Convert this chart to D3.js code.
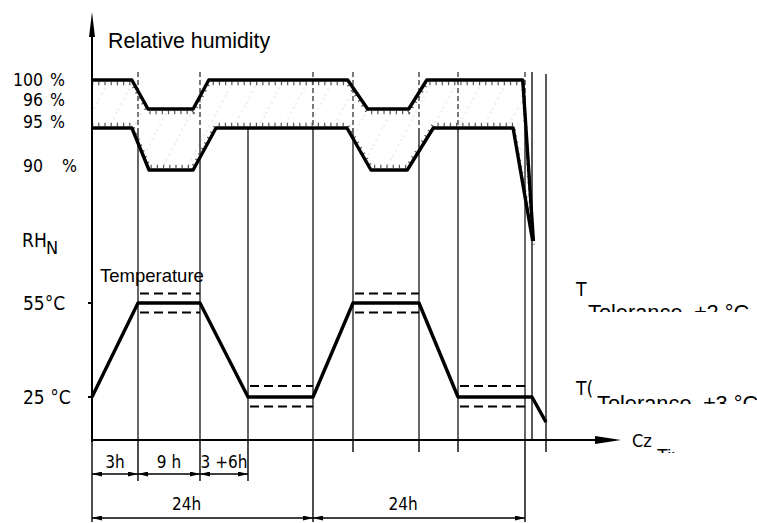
<!DOCTYPE html>
<html>
<head>
<meta charset="utf-8">
<script src="https://cdn.jsdelivr.net/npm/d3@7"></script>
<style>
	body { margin: 0; background: #fff; }
	svg { display: block; }
	.din { font-family: "DejaVu Sans Condensed", "DejaVu Sans", sans-serif; font-stretch: condensed; }
	.ari { font-family: "Liberation Sans", Arial, sans-serif; white-space: pre; }
</style>
</head>
<body>
<div id="chart"></div>
<script>
// Datos (horas, valores)
const RHN = 70; // humedad "normal", posición esquemática
const gridHours = [0, 3, 12, 15, 24, 27, 36, 39, 48, 49, 51];

const rhUpper = [[0, 100], [2.6, 100], [4.45, 96], [11, 96], [12.55, 100], [26.6, 100], [29, 96], [34.6, 96], [36.6, 100], [47.7, 100], [49.2, RHN]];
const rhLower = [[0, 95], [2.6, 95], [4.6, 90], [11, 90], [13, 95], [26.55, 95], [29.45, 90], [34.4, 90], [37.1, 95], [46.4, 95], [49.1, RHN]];

const tempCurve = [[0, 25], [3, 55], [12, 55], [15, 25], [24, 25], [27, 55], [36, 55], [39, 25], [49, 25], [51, 17]];
const tolHighSpans = [[3, 12], [27, 36]];
const tolHighLimits = [52, 58];
const tolLowSpans = [[15, 24], [39, 48]];
const tolLowLimits = [22, 28.5];

const rhTicks = [100, 96, 95, 90];
const tempTicks = [55, 25];
const tempTickLabels = ['55°C', '25 °C'];

const dimRow1 = [[0, 3, '3h'], [3, 12, '9 h'], [12, 15, '3 +6h']];
const dimRow2 = [[0, 24, '24h'], [24, 48, '24h']];

// Dimensiones
const W = 757, H = 523;
const axisY = 440;
const row1Y = 474, row2Y = 518;

const svg = d3.select('#chart').append('svg').attr('width', W).attr('height', H);

// Escalas (dibujo esquemático: tramos no proporcionales)
const x = d3.scaleLinear().domain(gridHours).range([92, 138, 200, 248, 313, 353, 419, 458, 525, 532, 546]);
const rh = d3.scaleLinear().domain([RHN, 90, 95, 96, 100]).range([241, 170, 128, 109, 80]);
const temp = d3.scaleLinear().domain([25, 55]).range([397, 303]);
const x0 = x(0);

const defs = svg.append('defs');
const pat = defs.append('pattern').attr('id', 'hatch').attr('patternUnits', 'userSpaceOnUse')
	.attr('width', 22).attr('height', 22).attr('patternTransform', 'rotate(28)');
pat.append('line').attr('x1', 2).attr('x2', 2).attr('y1', 0).attr('y2', 22)
	.attr('stroke', '#d2d2d2').attr('stroke-width', 0.8).attr('stroke-dasharray', '2,4');

defs.append('marker').attr('id', 'arr').attr('viewBox', '0 0 10 5').attr('refX', 10).attr('refY', 2.5)
	.attr('markerWidth', 10).attr('markerHeight', 5).attr('markerUnits', 'userSpaceOnUse')
	.attr('orient', 'auto-start-reverse')
	.append('path').attr('d', 'M0,0 L10,2.5 L0,5 Z').attr('fill', '#000');

const clip1 = defs.append('clipPath').attr('id', 'c1');
clip1.append('rect').attr('x', 0).attr('y', 0).attr('width', W).attr('height', 312);
const clip2 = defs.append('clipPath').attr('id', 'c2');
clip2.append('rect').attr('x', 0).attr('y', 0).attr('width', W).attr('height', 404);
const clip3 = defs.append('clipPath').attr('id', 'c3');
clip3.append('rect').attr('x', 0).attr('y', 0).attr('width', 675).attr('height', 453);

const rhLine = d3.line().x((d) => x(d[0])).y((d) => rh(d[1]));
const tLine = d3.line().x((d) => x(d[0])).y((d) => temp(d[1]));

// Banda de humedad rayada
svg.append('path')
	.attr('d', rhLine(rhUpper.concat(rhLower.slice().reverse())) + 'Z')
	.attr('fill', 'url(#hatch)').attr('stroke', 'none');

// Líneas verticales de la cuadrícula
const topY = rh(100) - 8;
const noTop = [15];
const fullTop = [49, 51];
gridHours.slice(1).forEach((h) => {
	const xv = x(h);
	if (fullTop.includes(h)) {
		svg.append('line').attr('x1', xv).attr('x2', xv).attr('y1', topY + (h === 51 ? 2 : 0)).attr('y2', axisY)
			.attr('stroke', '#000').attr('stroke-width', 1.3);
		return;
	}
	if (!noTop.includes(h)) {
		svg.append('line').attr('x1', xv).attr('x2', xv).attr('y1', topY).attr('y2', rh(95))
			.attr('stroke', '#222').attr('stroke-width', 1.2).attr('stroke-dasharray', '5,3');
	}
	svg.append('line').attr('x1', xv).attr('x2', xv).attr('y1', rh(95)).attr('y2', axisY)
		.attr('stroke', '#000').attr('stroke-width', 1.2);
});

// Marcas de rayado junto a las líneas
svg.append('path').datum(rhUpper).attr('d', rhLine).attr('transform', 'translate(0,3.5)')
	.attr('fill', 'none').attr('stroke', '#555').attr('stroke-width', 3.5).attr('stroke-dasharray', '1.2,5');
svg.append('path').datum(rhLower).attr('d', rhLine).attr('transform', 'translate(0,-3.5)')
	.attr('fill', 'none').attr('stroke', '#555').attr('stroke-width', 3.5).attr('stroke-dasharray', '1.2,5');

// Curvas de humedad
[rhUpper, rhLower].forEach((s) => {
	svg.append('path').datum(s).attr('d', rhLine)
		.attr('fill', 'none').attr('stroke', '#000').attr('stroke-width', 3.4).attr('stroke-linejoin', 'round');
});

// Tolerancias de temperatura
function tolLines(spans, limits) {
	spans.forEach((sp) => {
		limits.forEach((v) => {
			svg.append('line').attr('x1', x(sp[0]) + 2).attr('x2', x(sp[1])).attr('y1', temp(v)).attr('y2', temp(v))
				.attr('stroke', '#000').attr('stroke-width', 2).attr('stroke-dasharray', '9,5');
		});
	});
}
tolLines(tolHighSpans, tolHighLimits);
tolLines(tolLowSpans, tolLowLimits);

// Curva de temperatura
svg.append('path').datum(tempCurve).attr('d', tLine)
	.attr('fill', 'none').attr('stroke', '#000').attr('stroke-width', 3.4).attr('stroke-linejoin', 'round');

// Ejes
svg.append('line').attr('x1', x0).attr('x2', x0).attr('y1', 30).attr('y2', axisY + 2)
	.attr('stroke', '#000').attr('stroke-width', 2);
svg.append('path').attr('d', `M${x0 - 3},37 L${x0},12 L${x0 + 3},37 Z`).attr('fill', '#000');
svg.append('line').attr('x1', x0).attr('x2', 600).attr('y1', axisY).attr('y2', axisY)
	.attr('stroke', '#000').attr('stroke-width', 2);
svg.append('path').attr('d', `M595,${axisY - 4} L621,${axisY} L595,${axisY + 4} Z`).attr('fill', '#000');

// Marcas del eje Y de temperatura
tempTicks.forEach((t) => {
	svg.append('line').attr('x1', x0 - 4).attr('x2', x0).attr('y1', temp(t)).attr('y2', temp(t))
		.attr('stroke', '#000').attr('stroke-width', 2);
});

// Líneas de cota bajo el eje
const row2Bounds = [0, 24, 48];
const row1Bounds = [0, 3, 12, 15];
gridHours.forEach((h) => {
	if (h === 49) return;
	let y2 = axisY + 12;
	if (row2Bounds.includes(h)) y2 = row2Y + 4;
	else if (row1Bounds.includes(h)) y2 = row1Y + 7;
	svg.append('line').attr('x1', x(h)).attr('x2', x(h)).attr('y1', axisY).attr('y2', y2)
		.attr('stroke', '#000').attr('stroke-width', 1.4);
});

function dimRow(row, y, labelY, shift) {
	row.forEach((d) => {
		svg.append('line').attr('x1', x(d[0])).attr('x2', x(d[1])).attr('y1', y).attr('y2', y)
			.attr('stroke', '#000').attr('stroke-width', 1.6)
			.attr('marker-start', 'url(#arr)').attr('marker-end', 'url(#arr)');
		svg.append('text').attr('class', 'din').attr('x', (x(d[0]) + x(d[1])) / 2 + shift).attr('y', labelY)
			.attr('text-anchor', 'middle').attr('font-size', 17).text(d[2]);
	});
}
dimRow(dimRow1, row1Y, 468, 0);
dimRow(dimRow2, row2Y, 510, -16);

// Etiquetas del eje de humedad
const rhShift = { 100: 0, 96: -9, 95: -6, 90: -4 };
rhTicks.forEach((v) => {
	const yv = rh(v) + rhShift[v] + 6;
	svg.append('text').attr('class', 'din').attr('x', 43).attr('y', yv).attr('text-anchor', 'end')
		.attr('font-size', 17.5).text(String(v));
	svg.append('text').attr('class', 'din').attr('x', v === 90 ? 62 : 50).attr('y', yv)
		.attr('font-size', 17.5).text('%');
});
svg.append('text').attr('class', 'din').attr('x', 22).attr('y', 247).attr('font-size', 19).text('RH');
svg.append('text').attr('class', 'din').attr('x', 46).attr('y', 254).attr('font-size', 18).text('N');

// Etiquetas del eje de temperatura
tempTicks.forEach((t, i) => {
	svg.append('text').attr('class', 'din').attr('x', 23).attr('y', temp(t) + 7)
		.attr('font-size', 19).text(tempTickLabels[i]);
});

// Títulos
svg.append('text').attr('class', 'ari').attr('x', 108).attr('y', 48).attr('font-size', 21.3).text('Relative humidity');
svg.append('text').attr('class', 'ari').attr('x', 100).attr('y', 282).attr('font-size', 18.5).text('Temperature');

// Etiquetas de tolerancia (recortadas como en el original)
svg.append('text').attr('class', 'din').attr('x', 576).attr('y', 296).attr('font-size', 19).text('T');
svg.append('text').attr('class', 'ari').attr('x', 588).attr('y', 320).attr('font-size', 21.8)
	.attr('clip-path', 'url(#c1)').text('Tolerance  ±2 °C');
svg.append('text').attr('class', 'din').attr('x', 576).attr('y', 395).attr('font-size', 19).text('T(');
svg.append('text').attr('class', 'ari').attr('x', 597).attr('y', 411).attr('font-size', 21.8)
	.attr('clip-path', 'url(#c2)').text('Tolerance  ±3 °C');

// Eje X: etiqueta
svg.append('text').attr('class', 'din').attr('x', 632).attr('y', 447).attr('font-size', 18).text('Cz');
svg.append('text').attr('class', 'ari').attr('x', 657).attr('y', 462).attr('font-size', 18)
	.attr('clip-path', 'url(#c3)').text('Time');
</script>
</body>
</html>
